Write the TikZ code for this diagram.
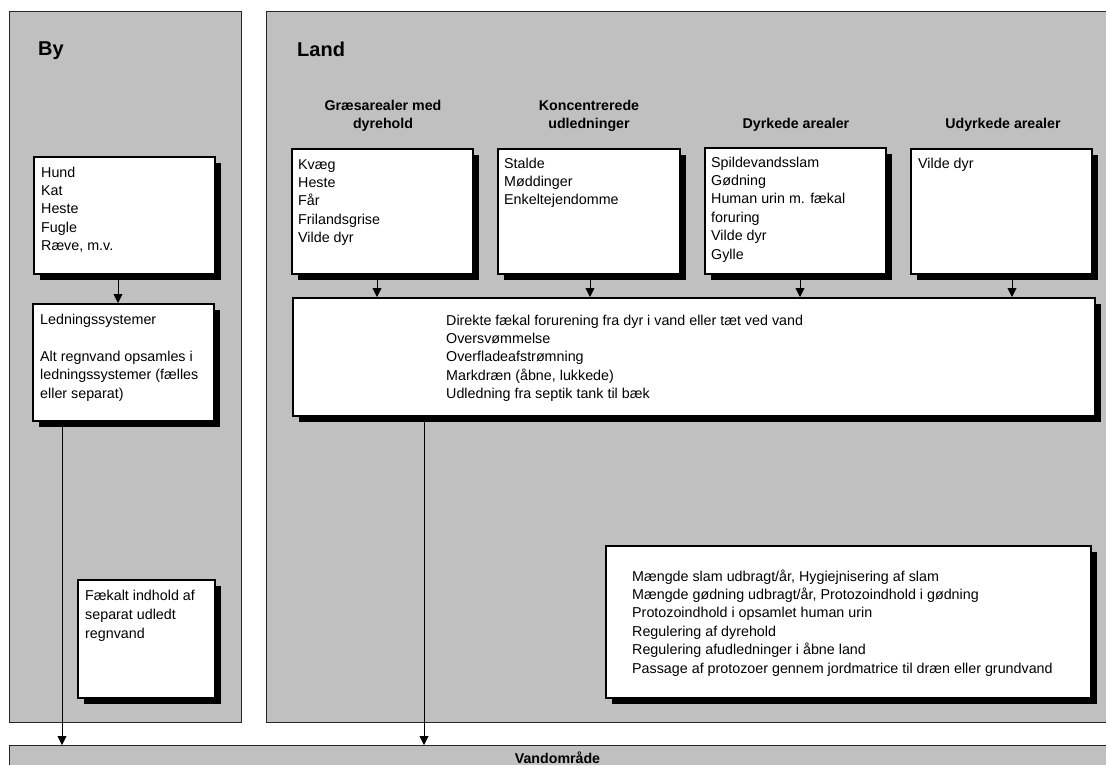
\documentclass[tikz,border=0pt]{standalone}
\usepackage{fontspec}
\setmainfont{Liberation Sans}
\usetikzlibrary{arrows.meta,shadows}
\definecolor{panelgray}{HTML}{C0C0C0}
\begin{document}
\begin{tikzpicture}[x=1pt,y=-1pt,
  panel/.style={draw=black!85, line width=0.9pt, fill=panelgray, anchor=north west, inner sep=0pt},
  srcbox/.style={draw=black, line width=2pt, fill=white, anchor=north west, inner sep=0pt,
    drop shadow={shadow xshift=6pt, shadow yshift=-6pt, fill=black, opacity=1}},
  % multi-line texts are placed by the baseline of their last line
  body/.style={anchor=base west, inner sep=0pt, align=left, font=\fontsize{14.3}{18.4}\selectfont},
  head/.style={anchor=base, inner sep=0pt, align=center, font=\fontsize{14.2}{18}\selectfont\bfseries},
  title/.style={anchor=base west, inner sep=0pt, font=\fontsize{20}{24}\selectfont\bfseries},
  flow/.style={line width=0.9pt, -{Triangle[width=9pt,length=9pt]}}
]
\useasboundingbox (0,0) rectangle (1106,764);
\clip (0,0) rectangle (1106,764);

% background panels
\node[panel, minimum width=232pt, minimum height=711pt] (by) at (9,11) {};
\node[panel, minimum width=860pt, minimum height=711pt] (land) at (266,11) {};
\node[panel, minimum width=1110pt, minimum height=40pt] (vand) at (9,745) {};

% panel titles
\node[title] (bytitle) at (38,55) {By};
\node[title] (landtitle) at (297,56) {Land};
\node[head] (vandtitle) at (557.5,763) {Vandområde};

% column headings
\node[head] (h1) at (383,128) {Græsarealer med\\dyrehold};
\node[head] (h2) at (589,128) {Koncentrerede\\udledninger};
\node[head] (h3) at (796,128) {Dyrkede arealer};
\node[head] (h4) at (1003,128) {Udyrkede arealer};

% boxes
\node[srcbox, minimum width=181pt, minimum height=117pt] (hund) at (33,156) {};
\node[srcbox, minimum width=181pt, minimum height=117pt] (led) at (32,303) {};
\node[srcbox, minimum width=137pt, minimum height=118pt] (faek) at (77,579) {};
\node[srcbox, minimum width=181pt, minimum height=125pt] (g1) at (291,148) {};
\node[srcbox, minimum width=182pt, minimum height=125pt] (g2) at (497,148) {};
\node[srcbox, minimum width=181pt, minimum height=126pt] (g3) at (704,147) {};
\node[srcbox, minimum width=181pt, minimum height=125pt] (g4) at (910,148) {};
\node[srcbox, minimum width=802pt, minimum height=118pt] (direkte) at (292,297) {};
\node[srcbox, minimum width=485pt, minimum height=152pt] (tiltag) at (605,545) {};

% box texts
\node[body] (thund) at (41,250.6) {Hund\\Kat\\Heste\\Fugle\\Ræve, m.v.};
\node[body] (tled) at (40,398) {Ledningssystemer\\[18.4pt]Alt regnvand opsamles i\\ledningssystemer (fælles\\eller separat)};
\node[body, font=\fontsize{14.3}{19}\selectfont] (tfaek) at (85,638) {Fækalt indhold af\\separat udledt\\regnvand};
\node[body] (tg1) at (298,242.6) {Kvæg\\Heste\\Får\\Frilandsgrise\\Vilde dyr};
\node[body] (tg2) at (504,204.8) {Stalde\\Møddinger\\Enkeltejendomme};
\node[body] (tg3) at (711,259) {Spildevandsslam\\Gødning\\Human urin m. fækal\\foruring\\Vilde dyr\\Gylle};
\node[body] (tg4) at (918,168) {Vilde dyr};
\node[body] (tdirekte) at (446,398.6) {Direkte fækal forurening fra dyr i vand eller tæt ved vand\\Oversvømmelse\\Overfladeafstrømning\\Markdræn (åbne, lukkede)\\Udledning fra septik tank til bæk};
\node[body] (ttiltag) at (632,673) {Mængde slam udbragt/år, Hygiejnisering af slam\\Mængde gødning udbragt/år, Protozoindhold i gødning\\Protozoindhold i opsamlet human urin\\Regulering af dyrehold\\Regulering afudledninger i åbne land\\Passage af protozoer gennem jordmatrice til dræn eller grundvand};

% connectors
\draw[flow] ([xshift=-6.5pt]hund.south) -- ([xshift=-6.5pt]hund.south |- led.north);
\draw[flow] ([xshift=-5.5pt]g1.south) -- ([xshift=-5.5pt]g1.south |- direkte.north);
\draw[flow] ([xshift=1pt]g2.south) -- ([xshift=1pt]g2.south |- direkte.north);
\draw[flow] ([xshift=4.5pt]g3.south) -- ([xshift=4.5pt]g3.south |- direkte.north);
\draw[flow] ([xshift=10.5pt]g4.south) -- ([xshift=10.5pt]g4.south |- direkte.north);
\draw[flow] ([xshift=30pt]led.south west) -- ([xshift=30pt]led.south west |- vand.north);
\draw[flow] ([xshift=132pt]direkte.south west) -- ([xshift=132pt]direkte.south west |- vand.north);
\end{tikzpicture}
\end{document}
